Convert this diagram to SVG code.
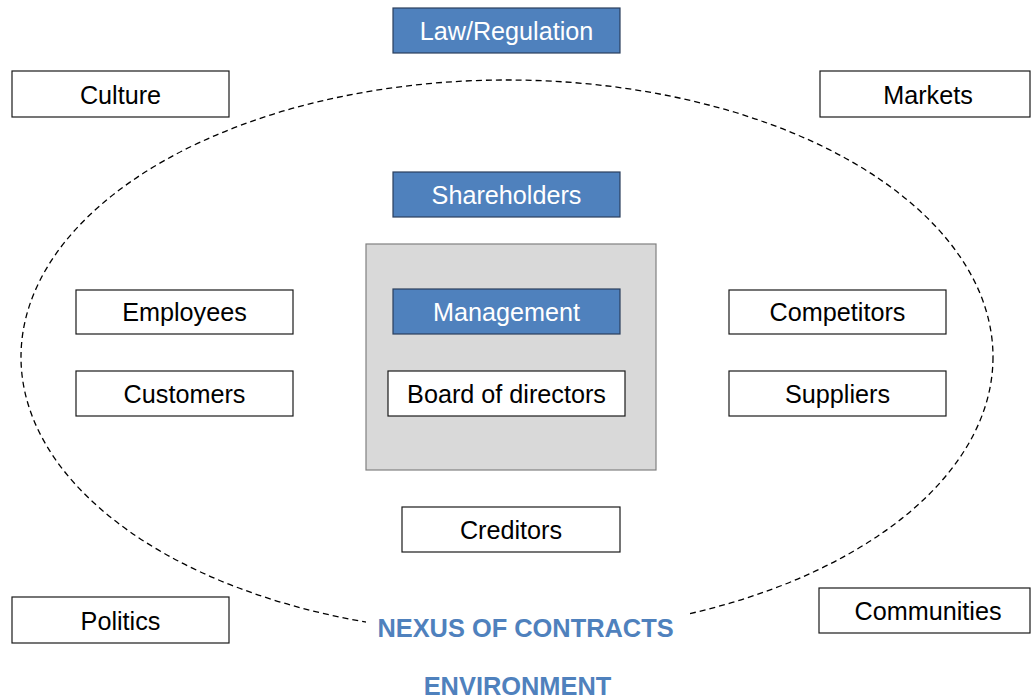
<svg xmlns="http://www.w3.org/2000/svg" width="1032" height="699" viewBox="0 0 1032 699">
  <style>
    .box { fill: #ffffff; stroke: #1a1a1a; stroke-width: 1.2; }
    .blue { fill: #4f81bd; stroke: #2b3f5c; stroke-width: 1.2; }
    .core { fill: #d9d9d9; stroke: #808080; stroke-width: 1.2; }
    .lbl { font-family: "Liberation Sans", Arial, sans-serif; font-size: 25.2px; text-anchor: middle; fill: #000000; }
    .lbl-w { fill: #ffffff; }
    .title { font-family: "Liberation Sans", Arial, sans-serif; font-size: 25.4px; font-weight: bold; text-anchor: middle; fill: #4f81bd; }
  </style>
  <rect width="1032" height="699" fill="#ffffff"/>

  <!-- dashed boundary of the firm -->
  <g id="connectors">
    <ellipse cx="507" cy="357" rx="486" ry="277" fill="none" stroke="#000000" stroke-width="1.3" stroke-dasharray="6,4"/>
  </g>

  <!-- firm core -->
  <g id="core">
    <rect class="core" x="366" y="244" width="290" height="226"/>
  </g>

  <g id="law"><rect class="blue" x="393" y="8" width="227" height="45"/><text class="lbl lbl-w" x="506.5" y="40">Law/Regulation</text></g>
  <g id="culture"><rect class="box" x="12" y="71" width="217" height="46"/><text class="lbl" x="120.5" y="104">Culture</text></g>
  <g id="markets"><rect class="box" x="820" y="71" width="210" height="46"/><text class="lbl" x="928" y="104">Markets</text></g>
  <g id="shareholders"><rect class="blue" x="393" y="172" width="227" height="45"/><text class="lbl lbl-w" x="506.5" y="204">Shareholders</text></g>
  <g id="management"><rect class="blue" x="393" y="289" width="227" height="45"/><text class="lbl lbl-w" x="506.5" y="321">Management</text></g>
  <g id="board"><rect class="box" x="388" y="371" width="237" height="45"/><text class="lbl" x="506.5" y="403">Board of directors</text></g>
  <g id="employees"><rect class="box" x="76" y="290" width="217" height="44"/><text class="lbl" x="184.5" y="321">Employees</text></g>
  <g id="customers"><rect class="box" x="76" y="371" width="217" height="45"/><text class="lbl" x="184.5" y="403">Customers</text></g>
  <g id="competitors"><rect class="box" x="729" y="290" width="217" height="44"/><text class="lbl" x="837.5" y="321">Competitors</text></g>
  <g id="suppliers"><rect class="box" x="729" y="371" width="217" height="45"/><text class="lbl" x="837.5" y="403">Suppliers</text></g>
  <g id="creditors"><rect class="box" x="402" y="507" width="218" height="45"/><text class="lbl" x="511" y="539">Creditors</text></g>
  <g id="politics"><rect class="box" x="12" y="597" width="217" height="46"/><text class="lbl" x="120.5" y="630">Politics</text></g>
  <g id="communities"><rect class="box" x="819" y="588" width="211" height="45"/><text class="lbl" x="928" y="620">Communities</text></g>

  <g id="nexus">
    <rect x="366" y="605" width="324" height="45" fill="#ffffff"/>
    <text class="title" x="525.5" y="637">NEXUS OF CONTRACTS</text>
  </g>
  <g id="environment">
    <text class="title" x="517.5" y="695">ENVIRONMENT</text>
  </g>
</svg>
